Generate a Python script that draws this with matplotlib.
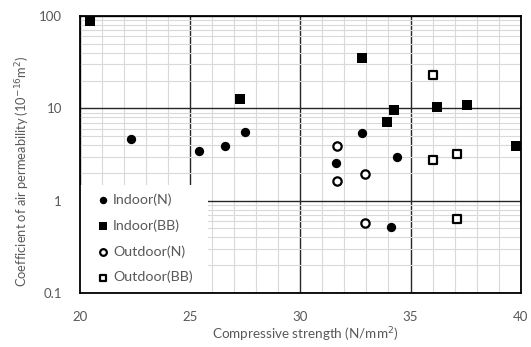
import numpy as np
import matplotlib.pyplot as plt
from matplotlib.patches import Rectangle
from matplotlib.ticker import FixedLocator, LogLocator, NullFormatter

# data
indoor_n_x = [22.3, 25.4, 26.6, 27.5, 31.6, 32.8, 34.4, 34.1]
indoor_n_y = [4.6, 3.45, 3.95, 5.6, 2.55, 5.45, 2.95, 0.52]

indoor_bb_x = [20.45, 27.25, 32.8, 34.25, 33.95, 36.2, 37.55, 39.8]
indoor_bb_y = [88, 12.5, 35.5, 9.7, 7.2, 10.3, 11.0, 3.9]

outdoor_n_x = [31.65, 31.65, 32.95, 32.95]
outdoor_n_y = [3.95, 1.63, 1.93, 0.575]

outdoor_bb_x = [36.0, 36.0, 37.1, 37.1]
outdoor_bb_y = [23.0, 2.75, 3.2, 0.64]

x_ticks = [20, 25, 30, 35, 40]
y_ticks = [0.1, 1, 10, 100]
y_tick_labels = ['0.1', '1', '10', '100']

plt.rcParams['font.family'] = ['Lato', 'DejaVu Sans']
gray = '#595959'

fig = plt.figure(figsize=(5.31, 3.47), dpi=100)
ax = fig.add_axes([0.1507, 0.1556, 0.8299, 0.7983])

ax.scatter(indoor_n_x, indoor_n_y, marker='o', s=45, c='black',
           linewidths=0, label='Indoor(N)', zorder=4)
ax.scatter(indoor_bb_x, indoor_bb_y, marker='s', s=45, c='black',
           linewidths=0, label='Indoor(BB)', zorder=4)
ax.scatter(outdoor_n_x, outdoor_n_y, marker='o', s=36, facecolors='white',
           edgecolors='black', linewidths=1.6, label='Outdoor(N)', zorder=4)
ax.scatter(outdoor_bb_x, outdoor_bb_y, marker='s', s=36, facecolors='white',
           edgecolors='black', linewidths=1.6, label='Outdoor(BB)', zorder=4)

ax.set_xlim(20, 40)
ax.set_yscale('log')
ax.set_ylim(0.1, 100)

ax.xaxis.set_major_locator(FixedLocator(x_ticks))
ax.xaxis.set_minor_locator(FixedLocator(np.arange(20, 41, 1)))
ax.yaxis.set_major_locator(FixedLocator(y_ticks))
ax.yaxis.set_minor_locator(LogLocator(base=10, subs=np.arange(2, 10)))
ax.yaxis.set_minor_formatter(NullFormatter())
ax.set_yticklabels(y_tick_labels)

ax.grid(which='minor', color='#d9d9d9', linewidth=0.8)
ax.grid(which='major', color='#262626', linewidth=1.0)
ax.set_axisbelow(True)

ax.tick_params(which='both', length=0, labelsize=9.5, labelcolor=gray)
ax.tick_params(axis='x', pad=13)
ax.tick_params(axis='y', pad=13)

for sp in ax.spines.values():
    sp.set_linewidth(1.3)
    sp.set_color('black')
    sp.set_zorder(6)

ax.set_xlabel('Compressive strength (N/mm$^2$)', fontsize=9.7, color=gray)
ax.xaxis.set_label_coords(0.5106, -0.1516)
ax.xaxis.label.set_va('center')
ax.set_ylabel('Coefficient of air permeability (10$^{-16}$m$^2$)', fontsize=9.3,
              color=gray)
ax.yaxis.set_label_coords(-0.13, 0.4386)
ax.yaxis.label.set_va('center')

# white box behind the legend, like the excel one
ax.add_patch(Rectangle((0, 0), 0.29, 0.39, transform=ax.transAxes,
                       facecolor='white', edgecolor='none', zorder=5))

leg = ax.legend(loc='lower left', bbox_to_anchor=(0.036, 0.035), frameon=False,
                fontsize=10.3, handletextpad=0.2, handlelength=1.0,
                labelspacing=0.92, borderpad=0.0, borderaxespad=0.0,
                markerscale=0.8)
for t in leg.get_texts():
    t.set_color(gray)
leg.set_zorder(7)

fig.savefig('out.png', dpi=100)
